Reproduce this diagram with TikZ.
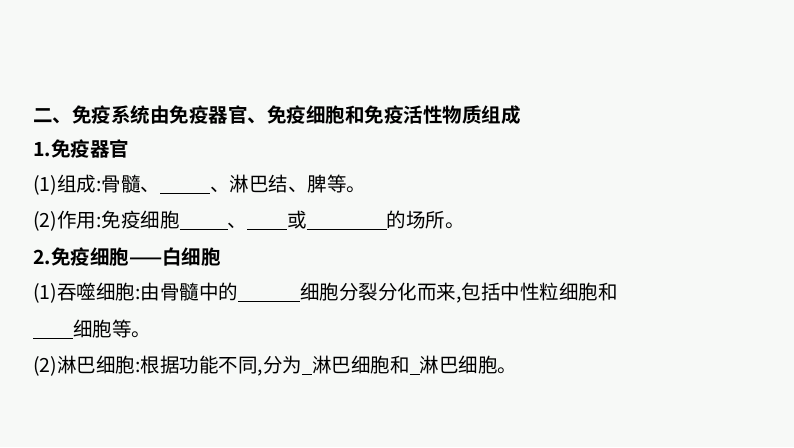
\documentclass[tikz,border=0pt]{standalone}
\usepackage{fontspec}
\setmainfont{Noto Sans CJK SC}
\newfontfamily\cjkb{Noto Sans CJK SC Bold}
\newcommand{\blank}[1]{\rule[-2pt]{#1pt}{0.7pt}}
\definecolor{bg}{RGB}{247,249,247}
\begin{document}
\begin{tikzpicture}[x=1pt,y=1pt,
  ln/.style={anchor=west,inner sep=0pt,font=\fontsize{19.5}{22}\selectfont}]
\useasboundingbox (0,0) rectangle (794,447);
\fill[bg] (0,0) rectangle (794,447);
\node[ln] (t1) at (33,332) {\cjkb 二、免疫系统由免疫器官、免疫细胞和免疫活性物质组成};
\node[ln] (t2) at (33,298) {\cjkb 1.免疫器官};
\node[ln] (t3) at (33,262) {(1)组成:骨髓、\blank{50}、淋巴结、脾等。};
\node[ln] (t4) at (33,226) {(2)作用:免疫细胞\blank{48}、\blank{40}或\blank{80}的场所。};
\node[ln] (t5) at (33,190) {\cjkb 2.免疫细胞——白细胞};
\node[ln] (t6) at (33,154) {(1)吞噬细胞:由骨髓中的\blank{62}细胞分裂分化而来,包括中性粒细胞和};
\node[ln] (t7) at (33,118) {\blank{40}细胞等。};
\node[ln] (t8) at (33,81) {(2)淋巴细胞:根据功能不同,分为\blank{10}淋巴细胞和\blank{10}淋巴细胞。};
\end{tikzpicture}
\end{document}
